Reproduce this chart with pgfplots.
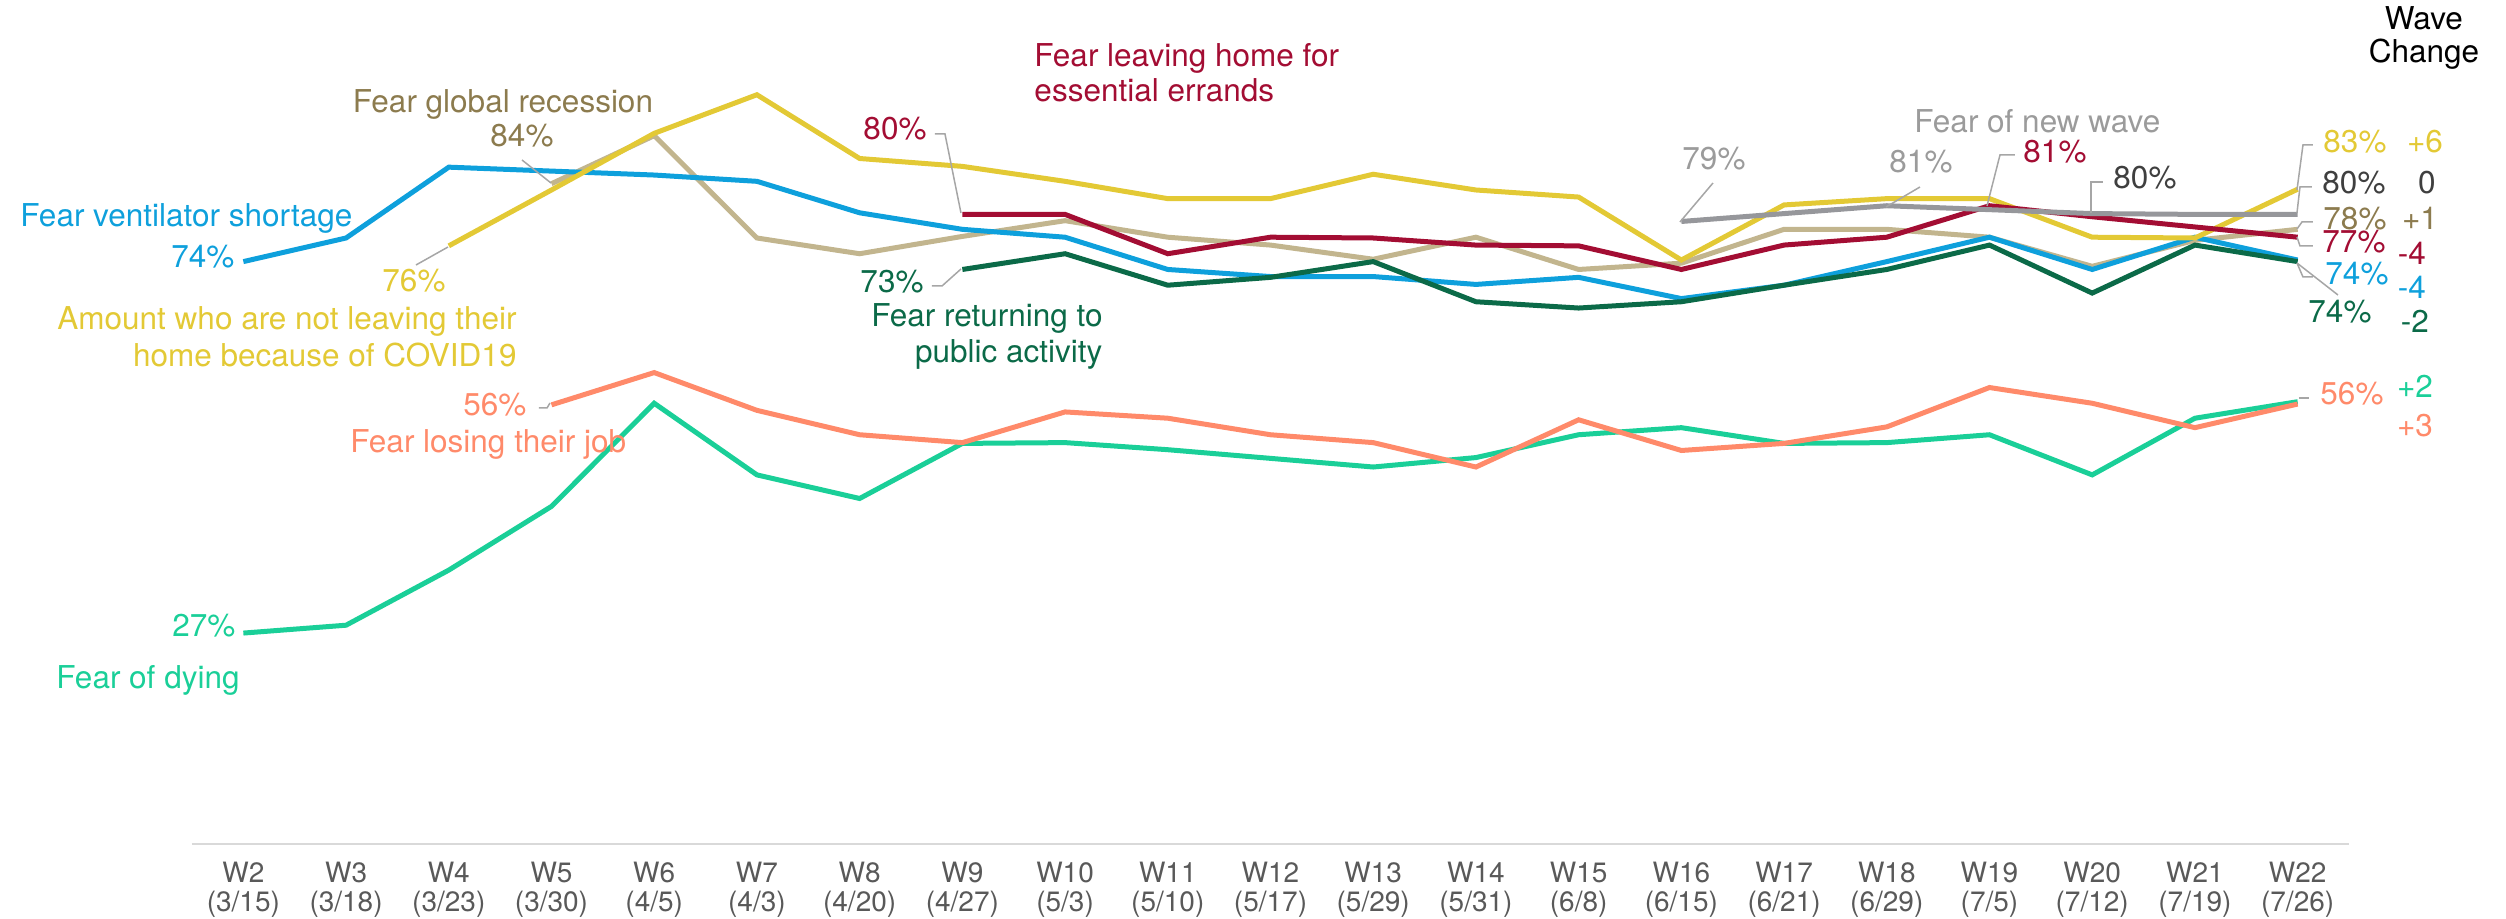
\documentclass[border=0pt]{standalone}
\usepackage{fontspec}
\setmainfont{TeX Gyre Heros}
\usepackage{pgfplots}
\pgfplotsset{compat=1.18}

\definecolor{cBlue}{HTML}{0EA0DC}
\definecolor{cYellow}{HTML}{E3C935}
\definecolor{cTanLine}{HTML}{C2B58E}
\definecolor{cTanText}{HTML}{8C7B4E}
\definecolor{cRed}{HTML}{A30D33}
\definecolor{cGreen}{HTML}{0B6A48}
\definecolor{cGreyLine}{HTML}{96979B}
\definecolor{cGreyText}{HTML}{9B9B9B}
\definecolor{cDark}{HTML}{3F3F3F}
\definecolor{cSalmon}{HTML}{FF8A6A}
\definecolor{cMint}{HTML}{1ACF98}
\definecolor{cTick}{HTML}{595959}

\tikzset{
  lab/.style={font=\fontsize{12.6}{15}\selectfont, inner sep=0pt},
  leader/.style={draw=black!35, line width=0.6pt},
}

\begin{document}
\begin{tikzpicture}
\begin{axis}[
    at={(0,0)}, anchor=south west,
    scale only axis,
    width=862.8pt, height=337.6pt,
    xmin=-0.5, xmax=20.5, ymin=0, ymax=107.24,
    clip=false,
    axis lines=left,
    y axis line style={draw=none},
    x axis line style={draw=black!15, line width=0.8pt, -},
    ytick=\empty,
    xtick={0,...,20},
    major tick length=0pt,
    xticklabels={{W2\\(3/15)},{W3\\(3/18)},{W4\\(3/23)},{W5\\(3/30)},{W6\\(4/5)},
      {W7\\(4/3)},{W8\\(4/20)},{W9\\(4/27)},{W10\\(5/3)},{W11\\(5/10)},
      {W12\\(5/17)},{W13\\(5/29)},{W14\\(5/31)},{W15\\(6/8)},{W16\\(6/15)},
      {W17\\(6/21)},{W18\\(6/29)},{W19\\(7/5)},{W20\\(7/12)},{W21\\(7/19)},{W22\\(7/26)}},
    xticklabel style={align=center, inner sep=0pt, text=cTick,
      font=\fontsize{11.2}{11.3}\selectfont},
    xticklabel shift=7.2pt,
    every axis plot/.append style={line width=2pt, no markers},
]
% Fear of dying
\addplot[cMint] coordinates {(0,26.8) (1,27.8) (2,34.8) (3,42.9) (4,56) (5,46.9) (6,43.9)
  (7,50.9) (8,51) (9,50.1) (10,49) (11,47.9) (12,49.1) (13,52) (14,52.9) (15,50.9)
  (16,51) (17,52) (18,46.9) (19,54.1) (20,56.2)};
% Fear losing their job
\addplot[cSalmon] coordinates {(3,55.8) (4,59.9) (5,55.1) (6,52) (7,51) (8,54.9) (9,54.1)
  (10,52) (11,51) (12,47.9) (13,53.9) (14,50) (15,50.9) (16,53) (17,58) (18,56)
  (19,52.9) (20,55.9)};
% Fear global recession
\addplot[cTanLine] coordinates {(3,83.9) (4,90) (5,77) (6,75) (7,77.2) (8,79.2) (9,77.1)
  (10,76.1) (11,74.3) (12,77.1) (13,73) (14,73.8) (15,78.1) (16,78.1) (17,77.1)
  (18,73.4) (19,76.7) (20,78.1)};
% Fear ventilator shortage
\addplot[cBlue] coordinates {(0,74) (1,77) (2,86) (3,85.5) (4,85) (5,84.2) (6,80.2)
  (7,78.1) (8,77.1) (9,73) (10,72.1) (11,72.1) (12,71.1) (13,72) (14,69.3) (15,71)
  (16,74) (17,77.1) (18,73) (19,77.1) (20,74.2)};
% Not leaving home
\addplot[cYellow] coordinates {(2,76) (3,83.1) (4,90.3) (5,95.2) (6,87.1) (7,86.1)
  (8,84.2) (9,82) (10,82) (11,85.1) (12,83.1) (13,82.2) (14,74.2) (15,81.2) (16,82)
  (17,82) (18,77.1) (19,77) (20,83.2)};
% Fear returning to public activity
\addplot[cGreen] coordinates {(7,73) (8,75) (9,71) (10,72) (11,74) (12,68.9) (13,68.1)
  (14,68.9) (15,71) (16,73) (17,76.1) (18,70) (19,76.1) (20,74)};
% Fear leaving home for essential errands
\addplot[cRed] coordinates {(7,80) (8,80) (9,75) (10,77.1) (11,77) (12,76.1) (13,76)
  (14,73) (15,76.1) (16,77.1) (17,81.1) (18,79.7) (19,78.4) (20,77.1)};
% Fear of new wave
\addplot[cGreyLine] coordinates {(14,79.1) (15,80.1) (16,81.1) (17,80.6) (18,80.1)
  (19,80) (20,80)};
\end{axis}

% annotations, in pixels of the 2506x918 reference
\begin{scope}[x=0.4pt, y=-0.4pt, shift={(-76.8pt,337.6pt)}]
  \node[lab, anchor=base, text=cTanText] at (503,113) {Fear global recession};
  \node[lab, anchor=base, text=cTanText] at (522,147) {84\%};
  \draw[leader] (522,160) -- (551,183);

  \node[lab, anchor=base west, text=cBlue] at (20,227) {Fear ventilator shortage};
  \node[lab, anchor=base east, text=cBlue] at (235,268) {74\%};

  \node[lab, anchor=base, text=cYellow] at (414,292) {76\%};
  \draw[leader] (416,265) -- (448,247);
  \node[lab, anchor=base east, text=cYellow] at (517,330) {Amount who are not leaving their};
  \node[lab, anchor=base east, text=cYellow] at (517,367) {home because of COVID19};

  \node[lab, anchor=base east, text=cSalmon] at (527,416) {56\%};
  \draw[leader] (539,408) -- (547,408) -- (550,403);
  \node[lab, anchor=base west, text=cSalmon] at (350,453) {Fear losing their job};

  \node[lab, anchor=base east, text=cMint] at (236,637) {27\%};
  \node[lab, anchor=base west, text=cMint] at (56,689) {Fear of dying};

  \node[lab, anchor=base west, text=cRed] at (863,140) {80\%};
  \draw[leader] (935,134) -- (945,134) -- (961,213);
  \node[lab, anchor=base west, text=cRed] at (1034,67) {Fear leaving home for};
  \node[lab, anchor=base west, text=cRed] at (1034,102) {essential errands};

  \node[lab, anchor=base west, text=cGreen] at (860,293) {73\%};
  \draw[leader] (932,286) -- (942,286) -- (961,269);
  \node[lab, anchor=base east, text=cGreen] at (1103,327) {Fear returning to};
  \node[lab, anchor=base east, text=cGreen] at (1103,363) {public activity};

  \node[lab, anchor=base west, text=cGreyText] at (1682,170) {79\%};
  \draw[leader] (1713,183) -- (1680,222);
  \node[lab, anchor=base west, text=cGreyText] at (1889,173) {81\%};
  \draw[leader] (1920,187) -- (1886,207);
  \node[lab, anchor=base west, text=cGreyText] at (1914,133) {Fear of new wave};

  \node[lab, anchor=base west, text=cRed] at (2023,163) {81\%};
  \draw[leader] (2015,155) -- (2000,155) -- (1987,206);
  \node[lab, anchor=base west, text=cDark] at (2113,189) {80\%};
  \draw[leader] (2103,182) -- (2091,182) -- (2091,213);

  \node[lab, anchor=base, text=black] at (2424,30) {Wave};
  \node[lab, anchor=base, text=black] at (2424,63) {Change};

  \node[lab, anchor=base west, text=cYellow] at (2323,153) {83\%};
  \node[lab, anchor=base, text=cYellow] at (2425,153) {+6};
  \draw[leader] (2313,145) -- (2303,145) -- (2297,190);
  \node[lab, anchor=base west, text=cDark] at (2322,194) {80\%};
  \node[lab, anchor=base, text=cDark] at (2427,194) {0};
  \draw[leader] (2312,187) -- (2300,187) -- (2297,213);
  \node[lab, anchor=base west, text=cTanText] at (2323,230) {78\%};
  \node[lab, anchor=base, text=cTanText] at (2420,230) {+1};
  \draw[leader] (2313,222) -- (2302,222) -- (2297,229);
  \node[lab, anchor=base west, text=cRed] at (2322,253) {77\%};
  \node[lab, anchor=base, text=cRed] at (2412,265) {-4};
  \draw[leader] (2313,246) -- (2300,246) -- (2297,237);
  \node[lab, anchor=base west, text=cBlue] at (2325,285) {74\%};
  \node[lab, anchor=base, text=cBlue] at (2412,299) {-4};
  \draw[leader] (2297,263) -- (2303,277) -- (2313,277);
  \node[lab, anchor=base west, text=cGreen] at (2308,323) {74\%};
  \node[lab, anchor=base, text=cGreen] at (2415,333) {-2};
  \draw[leader] (2297,263) -- (2338,295);

  \node[lab, anchor=base west, text=cSalmon] at (2320,405) {56\%};
  \draw[leader] (2299,398) -- (2309,398);
  \node[lab, anchor=base, text=cMint] at (2415,398) {+2};
  \node[lab, anchor=base, text=cSalmon] at (2415,437) {+3};
\end{scope}

\pgfresetboundingbox
\path[use as bounding box] (-76.8pt,-29.6pt) rectangle (925.6pt,337.6pt);
\end{tikzpicture}
\end{document}
